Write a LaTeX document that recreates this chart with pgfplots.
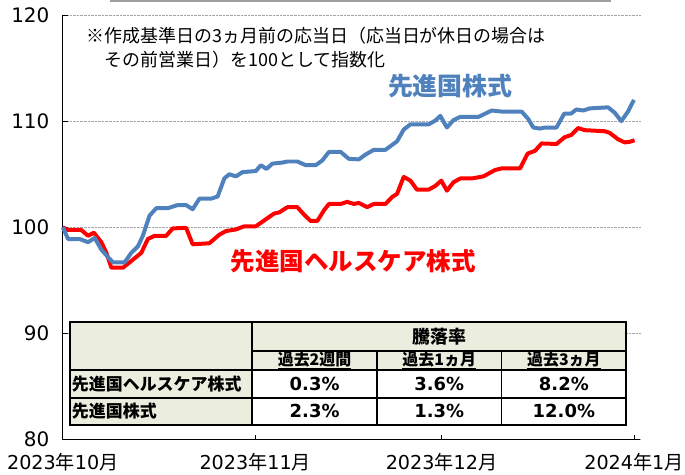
\documentclass[border=0pt]{standalone}
\usepackage{fontspec}
\setmainfont{Noto Sans CJK JP}
\newfontfamily\digfont{DejaVu Sans}
\usepackage{pgfplots}
\pgfplotsset{compat=1.18}
\definecolor{myblue}{RGB}{79,129,189}
\definecolor{myred}{RGB}{255,0,0}
\definecolor{tbeige}{RGB}{235,237,222}
\begin{document}
\begin{tikzpicture}
\begin{axis}[
  scale only axis, width=579bp, height=426bp,
  xmin=0, xmax=93, ymin=80, ymax=120,
  axis x line*=bottom, axis y line*=left,
  axis line style={-, black, line width=1.2bp},
  xtick={0,31,61,92},
  xticklabels={{\digfont 2023}年{\digfont 10}月,{\digfont 2023}年{\digfont 11}月,{\digfont 2023}年{\digfont 12}月,{\digfont 2024}年{\digfont 1}月},
  ytick={80,90,100,110,120},
  yticklabels={{\digfont 80},{\digfont 90},{\digfont 100},{\digfont 110},{\digfont 120}},
  tick align=inside, major tick length=5bp,
  tick style={black, line width=0.8bp},
  ymajorgrids, grid style={densely dotted, gray!70, line width=0.8bp},
  yticklabel style={font=\fontsize{20bp}{24bp}\selectfont, xshift=-10bp},
  xticklabel style={font=\fontsize{19.2bp}{24bp}\selectfont, yshift=-10bp},
  /pgf/number format/assume math mode=true,
  clip=false,
]
\addplot[myred, line width=4bp, line join=round] coordinates {
(0,100.0)(0.85,99.75)(2.99,99.75)(4.06,99.2)(5.0,99.5)(6.21,98.6)(7.02,97.6)(7.82,96.2)(9.69,96.2)(10.76,96.7)(12.64,97.6)(13.7,98.9)(14.77,99.2)(16.65,99.2)(17.71,99.9)(19.86,99.95)(20.92,98.4)(23.6,98.5)(25.2,99.3)(26.28,99.65)(27.89,99.8)(29.22,100.1)(31.1,100.1)(32.69,100.75)(34.04,101.3)(34.84,101.4)(36.18,101.9)(37.78,101.9)(38.85,101.2)(39.92,100.6)(40.99,100.6)(42.07,101.6)(42.87,102.2)(44.75,102.2)(45.81,102.4)(46.88,102.2)(47.69,102.3)(49.02,101.9)(50.1,102.2)(51.97,102.2)(53.04,102.85)(53.84,103.15)(54.91,104.75)(55.99,104.4)(57.05,103.55)(58.93,103.55)(60.0,103.9)(60.97,104.4)(61.87,103.45)(62.94,104.25)(64.02,104.6)(65.88,104.6)(67.76,104.8)(69.64,105.4)(70.7,105.55)(73.66,105.55)(74.88,106.95)(76.06,107.2)(77.13,107.9)(79.53,107.85)(80.87,108.5)(81.93,108.7)(83.0,109.35)(84.08,109.15)(87.29,109.05)(88.09,108.9)(89.43,108.3)(90.5,108.0)(91.3,108.05)(92.1,108.2)
};
\addplot[myblue, line width=4bp, line join=round] coordinates {
(0,100.0)(0.85,98.9)(2.73,98.9)(4.06,98.6)(5.14,99.0)(6.21,97.9)(7.27,97.2)(8.08,96.7)(9.96,96.7)(11.03,97.6)(12.09,98.2)(12.89,99.2)(13.97,101.1)(15.05,101.8)(16.91,101.8)(18.51,102.1)(19.86,102.1)(20.92,101.7)(22.0,102.7)(23.88,102.7)(24.94,102.9)(26.01,104.6)(26.81,105.0)(27.89,104.8)(28.95,105.2)(31.1,105.3)(31.9,105.85)(32.8,105.5)(33.77,106.0)(35.37,106.1)(36.18,106.2)(37.78,106.2)(39.13,105.85)(40.74,105.85)(41.8,106.3)(42.87,107.1)(44.75,107.1)(46.08,106.45)(47.69,106.4)(48.76,106.85)(50.1,107.3)(51.97,107.3)(53.84,108.1)(54.91,109.2)(55.99,109.7)(58.93,109.7)(60.0,110.05)(60.81,110.5)(61.87,109.4)(62.94,110.1)(64.02,110.4)(66.95,110.4)(69.09,111.0)(70.7,110.9)(73.91,110.9)(74.98,110.2)(75.79,109.4)(76.86,109.3)(77.67,109.4)(79.53,109.4)(80.76,110.7)(81.84,110.7)(82.74,111.1)(83.82,111.0)(84.89,111.2)(87.83,111.3)(88.9,110.8)(89.96,110.0)(91.04,110.9)(92.0,112.0)
};
\coordinate (o) at (rel axis cs:0,0);
\end{axis}
\pgfresetboundingbox
\begin{scope}[shift={(o)}, xshift=-63bp, yshift=441bp, x=1bp, y=-1bp]
\path[use as bounding box] (0,0) rectangle (687,476);
% top decoration line
\draw[gray!75, line width=1.8bp] (110,0.9) -- (613,0.9);
% annotation
\node[anchor=west, inner sep=0pt, font=\fontsize{18bp}{22bp}\selectfont] at (87,35.5) {※作成基準日の3ヵ月前の応当日（応当日が休日の場合は};
\node[anchor=west, inner sep=0pt, font=\fontsize{18bp}{22bp}\selectfont] at (105,60) {その前営業日）を100として指数化};
% series labels
\node[anchor=west, inner sep=0pt, text=myblue, font=\fontsize{25bp}{30bp}\selectfont\bfseries] at (389,86) {先進国株式};
\node[anchor=west, inner sep=0pt, text=myred, font=\fontsize{24.6bp}{30bp}\selectfont\bfseries] at (231,262) {先進国ヘルスケア株式};
% table
\fill[tbeige] (70,323) rectangle (628,426);
\fill[white] (253,371) rectangle (628,426);
\draw[black, line width=1.6bp] (253,323) -- (253,426);
\draw[black, line width=1.6bp] (378,352) -- (378,426);
\draw[black, line width=1.6bp] (503,352) -- (503,426);
\draw[black, line width=1.6bp] (253,352) -- (628,352);
\draw[black, line width=1.6bp] (70,371) -- (628,371);
\draw[black, line width=1.6bp] (70,399) -- (628,399);
\draw[black, line width=2.3bp] (70,323) rectangle (628,426);
\node[font=\fontsize{18bp}{22bp}\selectfont\bfseries] at (440.5,337.5) {騰落率};
\node[font=\fontsize{16bp}{18bp}\selectfont\bfseries] at (315.5,361.5) {\underline{過去2週間}};
\node[font=\fontsize{16bp}{18bp}\selectfont\bfseries] at (440.5,361.5) {\underline{過去1ヵ月}};
\node[font=\fontsize{16bp}{18bp}\selectfont\bfseries] at (565.5,361.5) {\underline{過去3ヵ月}};
\node[anchor=west, inner sep=0pt, font=\fontsize{17bp}{20bp}\selectfont\bfseries] at (72,385) {先進国ヘルスケア株式};
\node[anchor=west, inner sep=0pt, font=\fontsize{17bp}{20bp}\selectfont\bfseries] at (72,412.5) {先進国株式};
\foreach \xx/\txt in {315.5/0.3\%, 440.5/3.6\%, 565.5/8.2\%}
  \node[font=\fontsize{18bp}{22bp}\selectfont\digfont\bfseries] at (\xx,385) {\txt};
\foreach \xx/\txt in {315.5/2.3\%, 440.5/1.3\%, 565.5/12.0\%}
  \node[font=\fontsize{18bp}{22bp}\selectfont\digfont\bfseries] at (\xx,412.5) {\txt};
\end{scope}
\end{tikzpicture}
\end{document}
